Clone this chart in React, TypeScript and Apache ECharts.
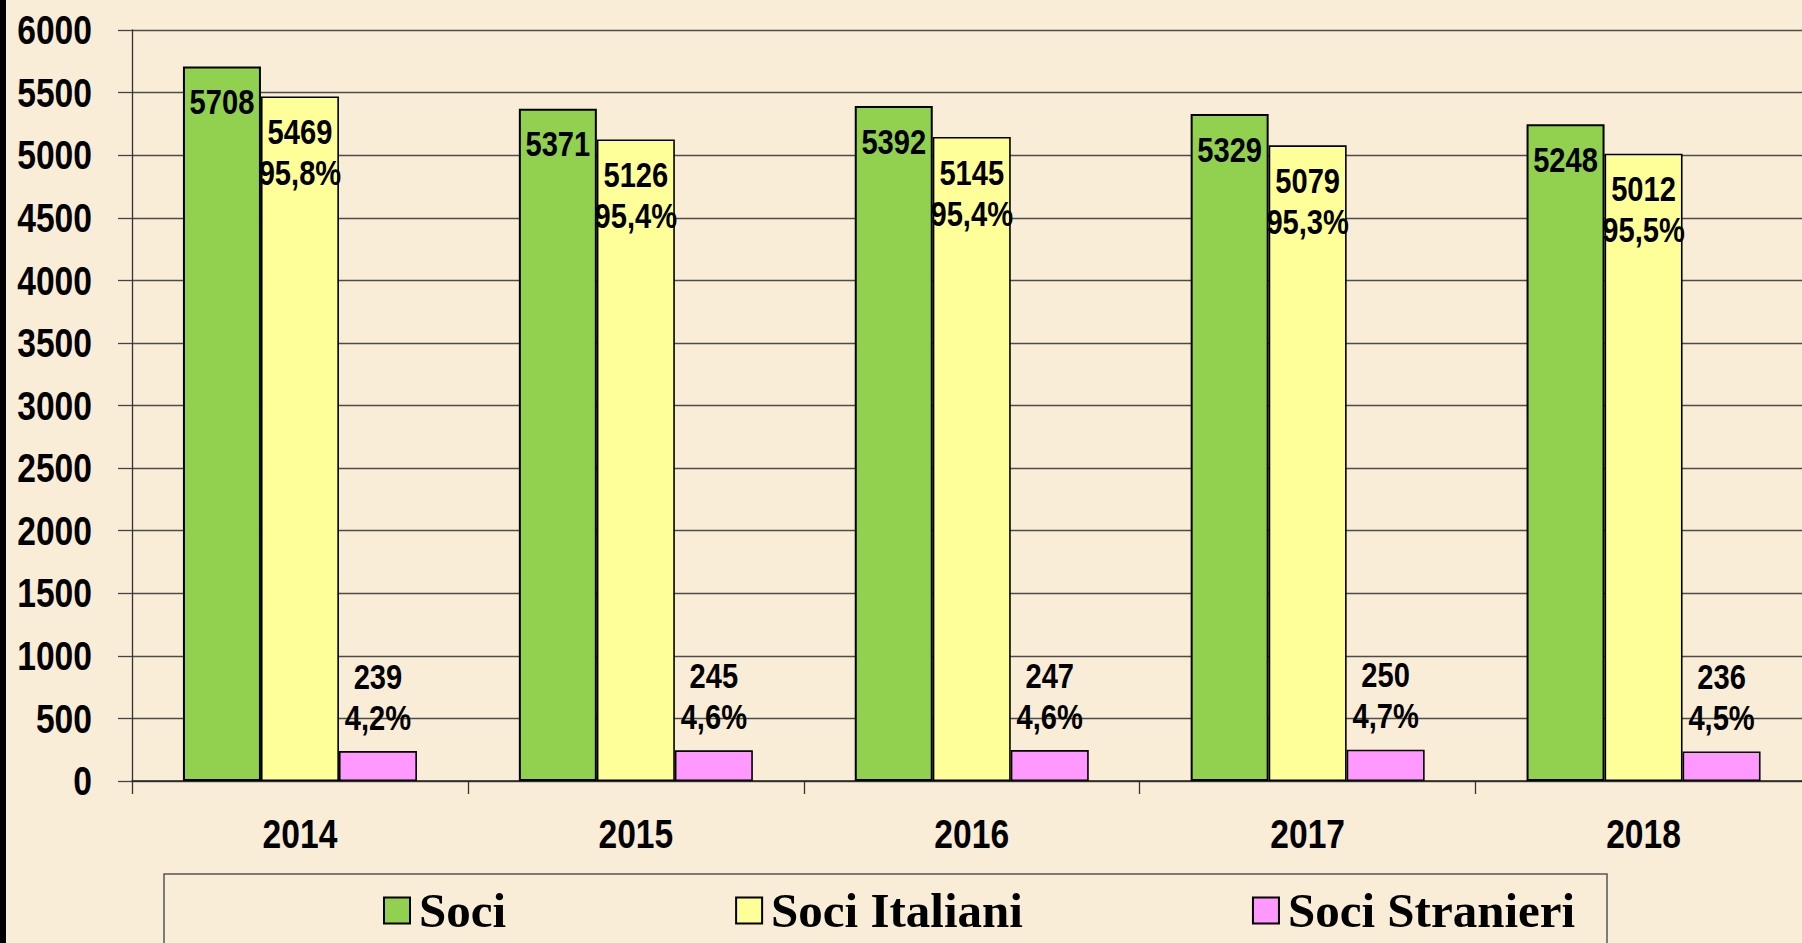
import React, { useEffect, useRef } from "react";
import * as echarts from "echarts";

const years = ["2014", "2015", "2016", "2017", "2018"];
const soci = [5708, 5371, 5392, 5329, 5248];
const sociItaliani = [5469, 5126, 5145, 5079, 5012];
const sociStranieri = [239, 245, 247, 250, 236];
const pctItaliani = ["95,8%", "95,4%", "95,4%", "95,3%", "95,5%"];
const pctStranieri = ["4,2%", "4,6%", "4,6%", "4,7%", "4,5%"];
const seriesNames = ["Soci", "Soci Italiani", "Soci Stranieri"];

const SERIF = "'Liberation Serif', 'Times New Roman', serif";
// Arial Narrow is not installed: use Liberation Sans (Arial metrics) and condense it horizontally.
const SANS = "'Liberation Sans', Arial, sans-serif";
const NARROW_SCALE = 0.82;

export default function App() {
  const ref = useRef<HTMLDivElement>(null);
  useEffect(() => {
    document.body.style.margin = "0";
    document.body.style.overflow = "hidden";
    const chart = echarts.init(ref.current!, null, { renderer: "svg" });
    const labelBase = {
      show: true,
      color: "#000",
      fontFamily: SANS,
      fontWeight: "bold" as const,
      fontSize: 35.5,
      lineHeight: 41,
      overflow: "none" as const,
    };
    chart.setOption({
      animation: false,
      backgroundColor: "#F9EDD8",
      grid: {
        left: 132,
        top: 30,
        bottom: 162,
        right: -9.5,
        containLabel: false,
        outerBoundsMode: "none",
      },
      legend: {
        data: seriesNames,
        left: 383,
        top: 886,
        padding: 0,
        itemWidth: 26,
        itemHeight: 26,
        itemGap: 229,
        icon: "rect",
        itemStyle: { borderColor: "#000", borderWidth: 2 },
        textStyle: {
          fontFamily: SERIF,
          fontWeight: "bold",
          fontSize: 49,
          lineHeight: 48,
          color: "#000",
          padding: [0, 0, 0, 4],
        },
      },
      xAxis: {
        type: "category",
        data: years,
        axisLine: { show: true, lineStyle: { color: "#222", width: 1.6 } },
        axisTick: { show: true, length: 13, lineStyle: { color: "#333", width: 1.3 } },
        axisLabel: {
          color: "#000",
          fontFamily: SANS,
          fontWeight: "bold",
          fontSize: 41,
          margin: 32,
        },
      },
      yAxis: {
        type: "value",
        min: 0,
        max: 6000,
        interval: 500,
        axisLine: { show: true, lineStyle: { color: "#333", width: 1.3 } },
        axisTick: { show: true, length: 14, lineStyle: { color: "#444", width: 1.3 } },
        splitLine: { show: true, lineStyle: { color: "#4f4b47", width: 1.4 } },
        axisLabel: {
          color: "#000",
          fontFamily: SANS,
          fontWeight: "bold",
          fontSize: 41,
          margin: 40,
          formatter: (v: number) => String(v),
        },
      },
      series: [
        {
          name: seriesNames[0],
          type: "bar",
          data: soci,
          barWidth: 78,
          barGap: "0%",
          itemStyle: { color: "#92D050", borderColor: "#000", borderWidth: 2 },
          label: { ...labelBase, position: "insideTop", distance: 15 },
        },
        {
          name: seriesNames[1],
          type: "bar",
          data: sociItaliani,
          barWidth: 78,
          barGap: "0%",
          itemStyle: { color: "#FFFF99", borderColor: "#000", borderWidth: 1.6 },
          label: {
            ...labelBase,
            position: "insideTop",
            distance: 15,
            formatter: (p: any) => `${p.value}\n${pctItaliani[p.dataIndex]}`,
          },
        },
        {
          name: seriesNames[2],
          type: "bar",
          data: sociStranieri,
          barWidth: 78,
          barGap: "0%",
          itemStyle: { color: "#FF99FF", borderColor: "#000", borderWidth: 1.6 },
          label: {
            ...labelBase,
            position: "top",
            distance: 13,
            formatter: (p: any) => `${p.value}\n${pctStranieri[p.dataIndex]}`,
          },
        },
      ],
      graphic: [
        {
          type: "rect",
          z: -1,
          shape: { x: 164, y: 874, width: 1443, height: 120 },
          style: { fill: "transparent", stroke: "#555", lineWidth: 1.5 },
        },
        {
          type: "rect",
          z: 10,
          shape: { x: 0, y: 0, width: 6, height: 943 },
          style: { fill: "#000" },
        },
      ],
    });

    // Condense the sans-serif texts horizontally around their own anchor point.
    const SUFFIX_MARK = "scale(" + NARROW_SCALE + " 1)";
    const narrow = () => {
      const root = ref.current;
      if (!root) return;
      root.querySelectorAll("text").forEach((t) => {
        const st = (t.getAttribute("style") || "") + (t.getAttribute("font-family") || "");
        if (!st.includes("Liberation Sans")) return;
        const tr = t.getAttribute("transform") || "";
        if (tr.includes(SUFFIX_MARK)) return;
        const x = parseFloat(t.getAttribute("x") || "0") || 0;
        t.setAttribute(
          "transform",
          `${tr} translate(${x} 0) ${SUFFIX_MARK} translate(${-x} 0)`.trim()
        );
      });
    };
    chart.on("finished", narrow);
    narrow();
    const t1 = window.setTimeout(narrow, 0);
    const t2 = window.setTimeout(narrow, 100);
    const raf = window.requestAnimationFrame(() => narrow());
    return () => {
      window.clearTimeout(t1);
      window.clearTimeout(t2);
      window.cancelAnimationFrame(raf);
      chart.dispose();
    };
  }, []);
  return (
    <div
      ref={ref}
      style={{ position: "fixed", left: 0, top: 0, width: 1802, height: 943 }}
    />
  );
}
